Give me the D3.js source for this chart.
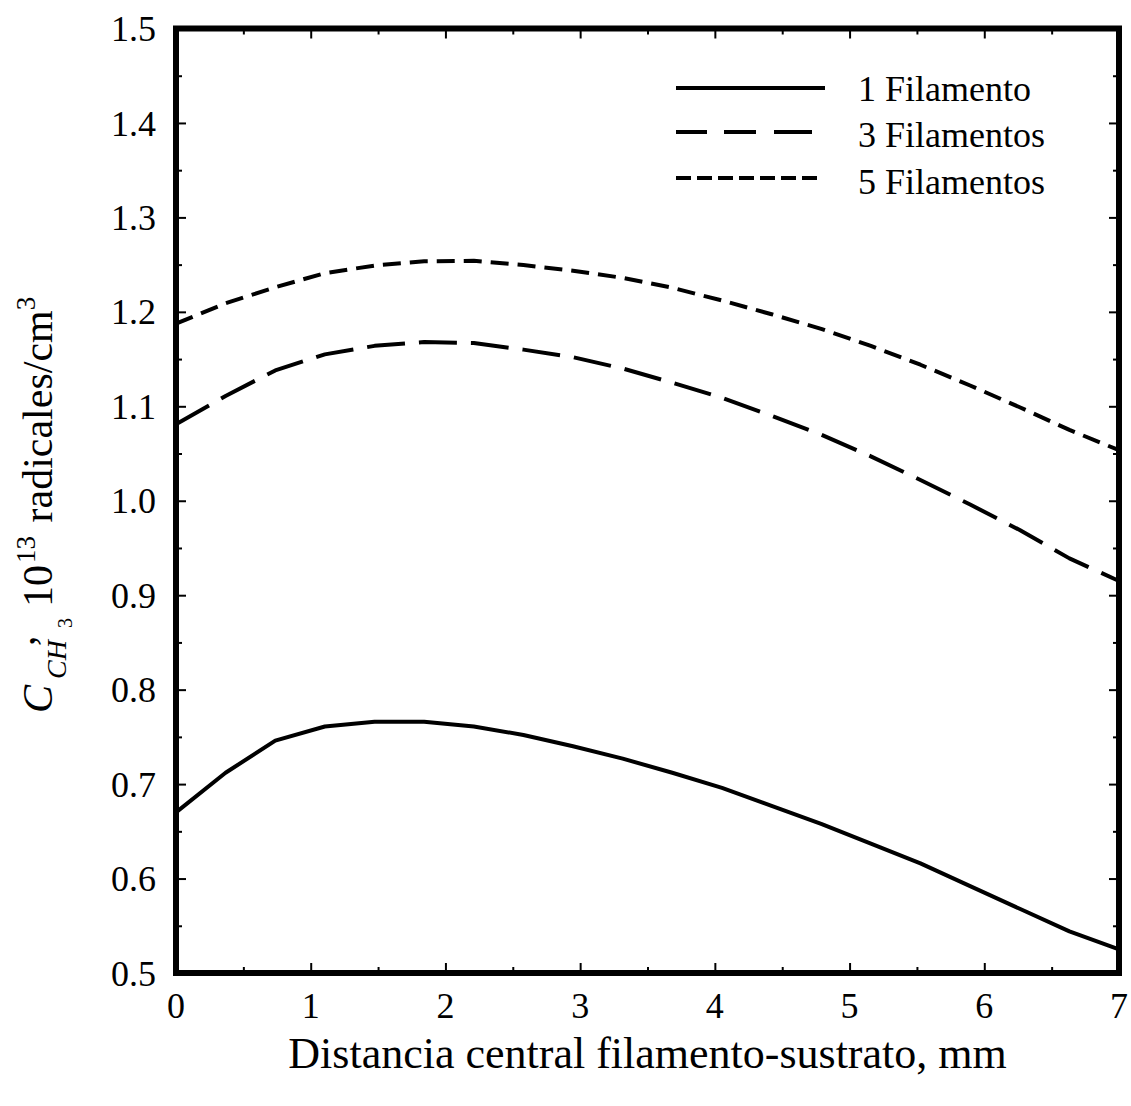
<!DOCTYPE html>
<html>
<head>
<meta charset="utf-8">
<script src="https://cdn.jsdelivr.net/npm/d3@7"></script>
<style>
  html, body { margin: 0; padding: 0; background: #fff; }
  svg { display: block; font-family: "Liberation Serif", "Times New Roman", serif; }
</style>
</head>
<body>
<svg id="chart" width="1131" height="1106"></svg>
<script>
// Distance from the filament centre to the substrate (mm)
const distance = [0, 0.368, 0.737, 1.105, 1.474, 1.842, 2.211, 2.579, 2.947, 3.316,
                  3.684, 4.053, 4.421, 4.789, 5.158, 5.526, 5.895, 6.263, 6.632, 7.0];

// CH3 radical concentration, 10^13 radicals/cm^3
const oneFilament   = [0.670, 0.712, 0.746, 0.761, 0.766, 0.766, 0.761, 0.752, 0.740, 0.727,
                       0.712, 0.696, 0.677, 0.658, 0.637, 0.616, 0.592, 0.568, 0.544, 0.525];
const threeFilament = [1.081, 1.111, 1.138, 1.155, 1.164, 1.168, 1.167, 1.160, 1.152, 1.140,
                       1.125, 1.109, 1.090, 1.070, 1.047, 1.022, 0.996, 0.969, 0.939, 0.915];
const fiveFilament  = [1.1875, 1.209, 1.226, 1.241, 1.249, 1.2535, 1.254, 1.2495, 1.2435, 1.236,
                       1.2255, 1.212, 1.1975, 1.182, 1.164, 1.144, 1.122, 1.099, 1.075, 1.0535];

const seriesNames = ["1 Filamento", "3 Filamentos", "5 Filamentos"];
const xTickValues = [0, 1, 2, 3, 4, 5, 6, 7];
const yTickValues = [0.5, 0.6, 0.7, 0.8, 0.9, 1.0, 1.1, 1.2, 1.3, 1.4, 1.5];

const svg = d3.select("#chart");
const plotLeft = 176, plotRight = 1119, plotTop = 28.5, plotBottom = 973;

const x = d3.scaleLinear().domain([0, 7]).range([plotLeft, plotRight]);
const y = d3.scaleLinear().domain([0.5, 1.5]).range([plotBottom, plotTop]);

const series = [
  { name: seriesNames[0], values: oneFilament,   dash: null,    legendDash: null },
  { name: seriesNames[1], values: threeFilament, dash: "38,14", legendDash: "31,17,32,18,38" },
  { name: seriesNames[2], values: fiveFilament,  dash: "18,9",  legendDash: "15,6" }
];

// Tick marks pointing inward on all four sides
const majorX = xTickValues;
const minorX = d3.range(0.5, 7, 1);
const majorY = yTickValues;
const minorY = d3.range(0.55, 1.5, 0.1);
const MAJ = 10, MIN = 6;

function addAxis(axisFn, scale, vals, len, transform) {
  const g = svg.append("g")
    .attr("transform", transform)
    .call(axisFn(scale).tickValues(vals).tickSize(len).tickFormat(""));
  g.select(".domain").remove();
  g.selectAll(".tick line").attr("stroke", "#000").attr("stroke-width", 2);
  return g;
}
// bottom / top
addAxis(d3.axisTop, x, majorX, MAJ, `translate(0,${plotBottom})`);
addAxis(d3.axisTop, x, minorX, MIN, `translate(0,${plotBottom})`);
addAxis(d3.axisBottom, x, majorX, MAJ, `translate(0,${plotTop})`);
addAxis(d3.axisBottom, x, minorX, MIN, `translate(0,${plotTop})`);
// left / right
addAxis(d3.axisRight, y, majorY, MAJ, `translate(${plotLeft},0)`);
addAxis(d3.axisRight, y, minorY, MIN, `translate(${plotLeft},0)`);
addAxis(d3.axisLeft, y, majorY, MAJ, `translate(${plotRight},0)`);
addAxis(d3.axisLeft, y, minorY, MIN, `translate(${plotRight},0)`);

// Tick labels
svg.append("g").selectAll("text").data(xTickValues).join("text")
  .attr("x", d => x(d)).attr("y", 1018)
  .attr("text-anchor", "middle").attr("font-size", 36)
  .text(d => d3.format("d")(d));

svg.append("g").selectAll("text").data(yTickValues).join("text")
  .attr("x", 156).attr("y", d => y(d)).attr("dy", "0.35em")
  .attr("text-anchor", "end").attr("font-size", 36)
  .text(d => d.toFixed(1));

// Data curves
const line = d3.line().x((d, i) => x(distance[i])).y(d => y(d));
svg.append("g").selectAll("path").data(series).join("path")
  .attr("d", d => line(d.values))
  .attr("fill", "none").attr("stroke", "#000").attr("stroke-width", 4)
  .attr("stroke-dasharray", d => d.dash)
  .attr("stroke-linejoin", "round");

// Plot frame
svg.append("rect")
  .attr("x", plotLeft).attr("y", plotTop)
  .attr("width", plotRight - plotLeft).attr("height", plotBottom - plotTop)
  .attr("fill", "none").attr("stroke", "#000").attr("stroke-width", 6);

// Legend
const legendLineY = [88, 132, 178];
const legendEnd = [825, 812, 822];
const legendTextY = [101, 147, 194];
const lg = svg.append("g");
series.forEach((s, i) => {
  lg.append("line")
    .attr("x1", 676).attr("x2", legendEnd[i])
    .attr("y1", legendLineY[i]).attr("y2", legendLineY[i])
    .attr("stroke", "#000").attr("stroke-width", 4)
    .attr("stroke-dasharray", s.legendDash);
  lg.append("text")
    .attr("x", 858).attr("y", legendTextY[i])
    .attr("font-size", 36).text(s.name);
});

// X axis title
svg.append("text")
  .attr("x", (plotLeft + plotRight) / 2).attr("y", 1068)
  .attr("text-anchor", "middle").attr("font-size", 44)
  .text("Distancia central filamento-sustrato, mm");

// Y axis title: C_{CH3} , 10^13 radicales/cm^3 (laid out along the rotated baseline)
const yt = svg.append("text")
  .attr("transform", "translate(52,713) rotate(-90)")
  .attr("font-size", 42);
yt.append("tspan").attr("x", 0).attr("y", 0).attr("font-style", "italic").text("C");
yt.append("tspan").attr("x", 34).attr("y", 14).attr("font-style", "italic")
  .attr("font-size", 28).text("CH");
yt.append("tspan").attr("x", 67).attr("y", -18).text(",");
yt.append("tspan").attr("x", 85).attr("y", 20).attr("font-size", 20).text("3");
yt.append("tspan").attr("x", 106).attr("y", 0).text("10");
yt.append("tspan").attr("x", 150).attr("y", -17).attr("font-size", 27).text("13");
yt.append("tspan").attr("x", 180).attr("y", 0).text(" radicales/cm");
yt.append("tspan").attr("y", -17).attr("font-size", 27).text("3");
</script>
</body>
</html>
